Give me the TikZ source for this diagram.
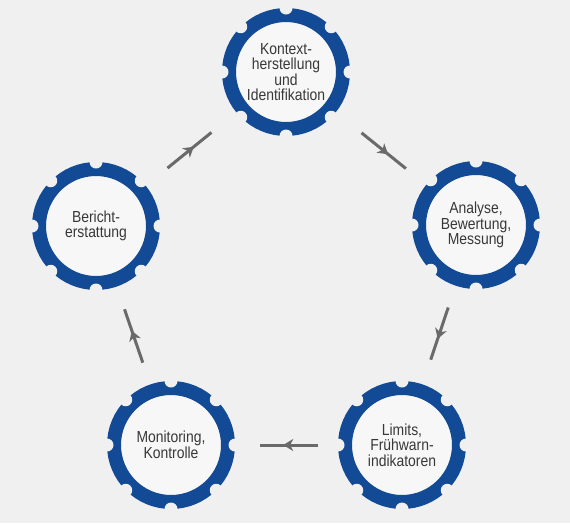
\documentclass[tikz,border=0pt]{standalone}
\usepackage{fontspec}
\setmainfont{Liberation Sans}[FakeStretch=0.87]
\usetikzlibrary{arrows.meta,calc,decorations.markings}
\definecolor{gearblue}{HTML}{124A96}
\definecolor{bggray}{HTML}{F0F0F0}
\definecolor{hubwhite}{HTML}{F7F7F7}
\definecolor{arrowgray}{HTML}{6A6A6A}
\definecolor{textgray}{HTML}{383838}
\begin{document}
\begin{tikzpicture}[
        x=1pt, y=-1pt,
        every node/.style={font=\fontsize{16}{15.5}\selectfont, text=textgray},
        gear/.style={
            circle,
            draw=gearblue,
            line width=14pt,
            fill=hubwhite,
            minimum size=114pt,
            inner sep=0pt,
            align=center
        },
        flow/.style={
            color=arrowgray,
            line width=3pt,
            postaction={decorate},
            decoration={markings,
                mark=at position 0.6 with {\arrow{Stealth[length=10pt,width=12pt,inset=3pt]}}}
        }
    ]

    % Background
    \fill[bggray] (0,0) rectangle (570,523);
    \useasboundingbox (0,0) rectangle (570,523);

    % Gears
    \node[gear] (top) at (286,72) {Kontext-\\herstellung\\und\\Identifikation};
    \node[gear] (right) at (476,225) {Analyse,\\Bewertung,\\Messung};
    \node[gear] (lowright) at (402,445) {Limits,\\Frühwarn-\\indikatoren};
    \node[gear] (lowleft) at (171,445) {Monitoring,\\Kontrolle};
    \node[gear] (left) at (96,226) {Bericht-\\erstattung};

    % Notches
    \foreach \g in {top,right,lowright,lowleft,left}
        \foreach \a in {0,45,...,315}
            \fill[bggray] (\g.\a) circle (6.5pt);

    % Cycle arrows
    \foreach \from/\to/\s/\e in {top/right/97/90, right/lowright/87/90,
        lowright/lowleft/84/89, lowleft/left/87/88, left/top/92/96}
        \draw[flow] ($(\from)!\s pt!(\to)$) -- ($(\to)!\e pt!(\from)$);

\end{tikzpicture}
\end{document}
